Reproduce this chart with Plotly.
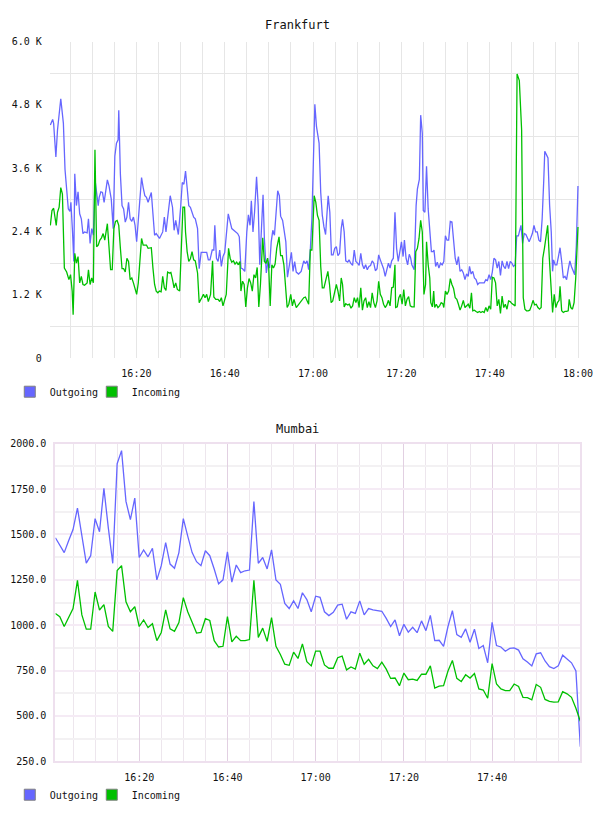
import numpy as np
import pandas as pd
import plotly.graph_objects as go

BASE = pd.Timestamp("2024-01-01 16:00:00")

# ---------------- Frankfurt (minutes after 16:00, value) ----------------
fra_out_min = [0.52,1.04,1.26,1.77,2.14,2.88,3.47,3.84,4.21,4.58,4.95,5.17,5.54,5.83,6.05,6.42,6.79,7.16,7.53,7.9,
    8.26,8.85,9.15,9.52,9.89,10.26,10.62,11.36,11.58,11.95,12.32,12.69,13.43,13.8,14.31,14.75,15.12,15.49,15.86,16.01,
    16.38,16.75,17.11,17.48,17.85,18.22,18.59,18.96,19.33,19.7,20.06,20.43,20.8,21.17,21.54,21.91,22.28,22.65,23.38,23.75,
    24.12,24.49,25.23,25.96,26.33,26.7,27.22,27.66,28.18,28.54,28.91,29.5,30.02,30.39,30.76,31.13,31.49,31.86,32.23,32.6,
    32.97,33.34,33.85,34.22,34.67,35.18,35.92,36.29,36.66,37.17,37.54,37.76,38.13,38.5,38.87,39.24,39.61,40.0,40.4,40.8,
    41.6,42.19,42.93,43.3,43.67,44.04,44.55,45.0,45.36,45.73,46.03,46.4,46.76,47.21,47.58,47.94,48.31,48.68,48.98,49.42,
    49.79,50.16,50.53,50.89,51.26,51.63,52.0,52.37,52.66,53.11,53.48,53.84,54.21,54.73,55.1,55.47,55.84,56.2,56.72,57.31,
    57.9,58.27,58.64,59.01,59.38,59.74,60.11,60.41,60.78,61.37,61.74,62.1,62.47,62.84,63.43,63.8,64.17,64.54,64.91,65.28,
    65.64,66.01,66.38,66.68,67.05,67.41,67.86,68.15,68.52,68.96,69.33,69.7,70.07,70.44,70.81,71.18,71.54,71.91,72.28,72.65,
    73.02,73.39,73.76,74.12,74.49,74.86,75.23,75.6,75.97,76.34,76.71,77.07,77.44,77.81,78.18,78.55,78.92,79.29,79.66,80.02,
    80.39,80.69,81.06,81.42,81.79,82.1,82.38,82.9,83.34,83.63,84.07,84.37,84.74,84.96,85.33,85.7,86.07,86.43,86.8,87.17,
    87.39,87.76,88.13,88.5,88.87,89.24,89.61,89.97,90.34,90.71,91.08,91.45,91.82,92.19,92.56,92.92,93.29,93.66,94.03,94.4,
    94.77,95.14,95.43,95.8,96.17,96.54,96.91,97.28,97.64,98.01,98.38,98.75,99.12,99.49,99.86,100.23,100.59,100.96,101.33,101.7,
    102.07,102.44,102.81,103.18,103.54,103.91,104.28,104.65,105.02,105.39,105.76,106.12,106.49,106.86,107.08,107.45,107.82,108.19,108.56,108.93,
    109.3,109.66,110.03,110.4,110.77,111.14,111.51,111.88,112.25,112.47,112.84,113.2,113.57,113.94,114.24,114.46,114.83,115.2,115.56,115.93,
    116.3,116.67,117.04,117.41,117.78,118.15,118.51,118.88,119.25,119.62,119.99]
fra_out_val = [4417,4523,4448,3813,4324,4915,4448,3576,3202,2828,2779,2953,2392,1832,3495,2891,3152,2735,2641,2361,
    2392,2374,2641,2174,2455,2330,3389,2891,3046,3152,3140,2953,3377,3264,3015,2455,3825,4074,4137,4697,
    3482,2891,2828,2579,2673,2953,2641,2592,2673,2517,2205,2610,3015,3420,3233,3078,3046,2953,3140,2641,
    2330,2361,2268,2392,2673,2392,2766,3078,2860,2423,2610,2342,2860,3327,3296,3545,3233,2891,2860,2766,
    2673,2641,2455,1695,2006,2006,2006,1863,1863,2050,2050,2517,1894,1832,2050,1738,1925,2000,2400,2735,
    2455,2411,2361,2299,1707,1695,1645,2392,2716,2517,2984,2392,2766,3439,2891,1769,2392,3096,2268,1614,
    1832,1707,2205,2423,2330,2735,3171,3078,2691,2610,2392,2205,1533,1769,2006,1645,1832,1632,1595,1645,
    1844,1788,1844,1676,2050,2641,3888,4810,4386,4074,3140,2704,2486,2342,3078,2766,1956,1956,2081,2112,
    1944,1987,2455,2629,2392,1844,1819,1863,1800,1757,2050,1832,1800,1757,1987,1769,1695,1769,1676,1738,
    1757,1844,1800,1657,1695,1956,1863,1769,1695,1551,1676,1800,1707,1844,1894,2766,2081,1832,2019,2205,
    1925,2237,1894,1769,1969,1900,1769,1676,2891,3202,3389,4604,4261,2797,2766,3638,2828,2486,2019,2019,
    2050,1738,1819,1707,1800,1769,1832,2318,2237,2237,2592,2579,2268,1894,1769,1925,1645,1676,1614,1489,
    1595,1551,1738,1595,1645,1520,1489,1396,1427,1427,1414,1427,1489,1470,1582,1489,1632,1894,1863,1707,
    1832,1570,1844,1738,1695,1832,1695,1832,1800,1738,1769,2318,2318,2486,2517,2174,2361,2342,2268,2205,
    2280,2361,2517,2392,2392,2237,2205,2641,3389,3919,3857,3794,2891,2392,1645,1863,1769,1769,1925,2093,
    1832,1520,1551,1489,1676,1844,1738,1657,1582,2143,3264]

fra_in_min = [0.52,0.89,1.26,1.63,1.85,2.14,2.51,2.88,3.25,3.69,4.21,4.72,5.09,5.46,5.68,6.05,6.42,6.79,7.16,7.53,
    7.9,8.26,8.85,9.15,9.52,9.89,10.26,10.62,10.99,11.36,11.73,12.1,12.47,12.84,13.43,14.16,14.53,14.9,15.27,15.64,
    16.01,16.38,16.75,17.11,17.48,17.85,18.22,18.59,18.96,19.33,19.7,20.06,20.43,20.8,21.17,21.54,22.28,22.65,23.38,23.75,
    24.12,24.49,24.86,25.23,25.6,25.96,26.33,26.7,27.07,27.44,27.81,28.18,28.54,28.91,29.28,29.8,30.17,30.54,30.91,31.13,
    31.49,31.86,32.23,32.6,32.97,33.34,33.85,34.22,34.81,35.18,35.55,35.92,36.29,36.8,37.25,37.54,37.98,38.5,38.87,39.24,
    39.61,39.98,40.35,40.87,41.23,41.6,41.97,42.34,42.71,43.08,43.45,43.67,44.04,44.4,44.77,45.14,45.51,45.88,46.25,46.62,
    46.99,47.35,47.72,48.09,48.61,48.98,49.35,49.71,49.94,50.3,50.67,51.04,51.41,51.78,52.3,52.66,53.03,53.4,53.77,54.14,
    54.51,54.95,55.32,55.69,56.2,56.72,57.31,57.9,58.27,58.64,59.01,59.38,59.74,60.26,60.63,61.0,61.37,61.74,62.1,62.47,
    62.84,63.36,63.73,64.1,64.46,64.83,65.28,65.64,66.01,66.38,66.68,67.05,67.41,67.86,68.22,68.59,68.96,69.33,69.7,70.07,
    70.44,70.81,71.18,71.54,71.91,72.28,72.65,73.02,73.39,73.76,74.12,74.49,74.86,75.23,75.6,75.97,76.34,76.71,77.07,77.44,
    77.81,78.18,78.55,78.7,79.07,79.43,79.8,80.17,80.54,80.91,81.28,81.65,82.02,82.38,82.9,83.26,83.63,84.0,84.37,84.74,
    85.11,85.48,85.7,86.07,86.43,86.66,87.02,87.32,87.54,87.91,88.28,88.65,89.02,89.38,89.61,89.97,90.34,90.71,91.08,91.45,
    91.82,92.19,92.56,92.92,93.29,93.66,94.03,94.4,94.77,95.14,95.51,95.87,96.17,96.54,96.91,97.28,97.64,98.01,98.38,98.75,
    99.12,99.49,99.86,100.23,100.59,100.96,101.33,101.7,102.07,102.44,102.81,103.18,103.54,103.91,104.28,104.65,105.02,105.39,105.76,106.2,
    106.71,107.23,107.6,107.97,108.34,108.71,109.07,109.44,109.81,110.18,110.55,110.92,111.29,111.65,112.02,112.39,112.76,113.13,113.5,113.87,
    114.24,114.61,114.98,115.34,115.71,115.93,116.3,116.67,117.04,117.41,117.78,118.0,118.37,118.74,119.11,119.48,119.77,119.99]
fra_in_val = [2517,2797,2841,2641,2517,2766,2860,3233,3109,1707,1632,1489,1582,1271,822,1987,1800,1925,1427,1551,
    1396,1383,1427,1676,1396,1520,1427,3950,2112,2143,2237,2280,2361,2237,2548,1676,1676,2455,2592,2610,
    2517,2081,1695,1695,1632,1894,1832,1489,1520,1427,1302,1209,1427,1894,2268,2143,2143,2081,2093,1707,
    1396,1271,1240,1271,1258,1551,1333,1283,1632,1614,1626,1489,1333,1427,1302,1271,2143,2860,2860,2392,
    2019,1832,1882,2019,1863,1844,1614,1053,1146,1209,1146,1209,1072,1209,1844,1159,1115,1115,1072,1146,
    991,1084,1209,2081,1894,1819,1844,1782,1819,1769,1832,1271,1458,1396,972,1333,1508,1427,1271,1582,
    1520,1719,972,1396,2280,1832,1800,1894,1769,991,1769,1707,1782,2081,2299,1944,1944,1769,1427,959,
    1022,1209,991,1115,959,1022,1072,1146,1159,1084,1022,2050,2050,3078,2953,2704,2610,1738,1333,1333,
    1489,1645,1396,1053,1084,1209,1396,1271,1084,1520,1396,972,1034,1009,1022,947,991,1146,1053,1146,
    959,1333,910,1084,1146,959,1072,959,1240,1053,959,1084,1458,1209,1146,1022,959,1009,1096,991,
    1333,1346,1769,959,972,1146,1209,1022,1302,991,1115,1165,991,972,972,2019,2081,2268,2610,2392,
    1209,1396,2205,1769,1520,1053,972,1271,959,1022,959,991,1053,1034,959,1271,1209,1271,1508,1396,
    1321,1146,1115,1022,910,991,1096,959,991,1022,947,1240,897,910,885,866,885,866,885,866,
    959,885,991,928,1533,1520,1427,991,1115,847,1178,959,1022,928,1084,1072,1034,1009,991,5383,
    5258,4324,1146,928,897,897,910,991,1096,1009,1022,959,928,959,1894,2081,2268,2517,1894,1271,
    866,1209,959,1053,1096,1364,897,866,885,885,897,1115,959,928,1053,1520,2143,2486]

fra_y_ticks = [0, 1200, 2400, 3600, 4800, 6000]
fra_y_labels = ["0", "1.2 K", "2.4 K", "3.6 K", "4.8 K", "6.0 K"]
fra_x_labels = ["16:20", "16:40", "17:00", "17:20", "17:40", "18:00"]

# ---------------- Mumbai (one value per minute, 16:01 .. 18:00) ----------------
mum_out = [1482,1440,1400,1465,1527,1645,1482,1342,1383,1587,1515,1754,1536,1341,1890,1962,1682,1582,1700,1373,
    1415,1377,1424,1250,1328,1455,1337,1314,1400,1587,1491,1400,1350,1328,1410,1383,1310,1228,1250,1404,
    1237,1332,1290,1300,1304,1682,1341,1373,1310,1415,1250,1225,1120,1092,1134,1092,1179,1141,1074,1160,
    1154,1074,1053,1071,1111,1116,1033,1074,1065,1134,1057,1092,1084,1080,1077,1038,993,1029,942,1005,
    962,989,959,1024,970,1054,915,917,884,993,1080,948,933,980,906,978,872,888,793,1016,
    888,880,857,872,875,863,815,797,776,842,848,803,772,761,776,835,815,793,748,331]
mum_in = [1065,1047,993,1040,1092,1247,1057,978,978,1183,1084,1114,993,966,1301,1328,1129,1074,1102,993,
    1029,987,1008,915,960,1084,980,966,1015,1152,1074,1016,957,960,1036,1026,915,880,884,1047,
    908,939,915,915,921,1247,933,984,911,1042,884,839,785,779,852,817,897,799,776,857,
    857,781,763,763,821,830,754,770,758,846,785,812,776,761,797,758,707,709,667,736,
    700,703,696,730,730,776,654,665,667,748,806,707,690,727,709,734,649,643,598,788,
    676,649,640,640,676,663,603,601,589,674,658,591,580,576,578,634,622,603,543,471]
mum_x_labels = ["16:20", "16:40", "17:00", "17:20", "17:40"]

series_names = ["Outgoing", "Incoming"]

BLUE = "#6666ff"
GREEN = "#00c000"
FONT = "DejaVu Sans Mono"
W, H = 608, 816


def t(mins):
    return BASE + pd.to_timedelta(np.asarray(mins, dtype=float), unit="min")


def lab_times(labels):
    return [pd.Timestamp("2024-01-01 " + s) for s in labels]


fig = go.Figure()

# Frankfurt
fig.add_trace(go.Scatter(x=t(fra_out_min), y=fra_out_val, mode="lines", line=dict(color=BLUE, width=1.3),
                         showlegend=False, xaxis="x", yaxis="y"))
fig.add_trace(go.Scatter(x=t(fra_in_min), y=fra_in_val, mode="lines", line=dict(color=GREEN, width=1.3),
                         showlegend=False, xaxis="x", yaxis="y"))
# Mumbai
mum_t = t(np.arange(1, len(mum_out) + 1))
fig.add_trace(go.Scatter(x=mum_t, y=mum_out, mode="lines", line=dict(color=BLUE, width=1.3),
                         showlegend=False, xaxis="x2", yaxis="y2"))
fig.add_trace(go.Scatter(x=mum_t, y=mum_in, mode="lines", line=dict(color=GREEN, width=1.3),
                         showlegend=False, xaxis="x2", yaxis="y2"))

# legend swatches (plus an invisible spacer entry so the last label is not clipped)
for leg, xa, ya in (("legend", "x", "y"), ("legend2", "x2", "y2")):
    for name, col in zip(series_names, (BLUE, GREEN)):
        fig.add_trace(go.Scatter(x=[None], y=[None], mode="markers", name=name,
                                 marker=dict(symbol="square", size=11, color=col,
                                             line=dict(color="#808080", width=1)),
                                 legend=leg, xaxis=xa, yaxis=ya))
    fig.add_trace(go.Scatter(x=[None], y=[None], mode="markers", name=" ",
                             marker=dict(size=1, color="rgba(0,0,0,0)"),
                             legend=leg, xaxis=xa, yaxis=ya))

tickfont = dict(family=FONT, size=10, color="#111111")
fra_minor_y = [(a + b) / 2 for a, b in zip(fra_y_ticks[:-1], fra_y_ticks[1:])]

legend_common = dict(orientation="h", xanchor="left", yanchor="middle", entrywidth=37,
                     font=dict(family=FONT, size=10, color="#111111"), bgcolor="rgba(0,0,0,0)",
                     itemclick=False, itemdoubleclick=False)

fig.update_layout(
    width=W, height=H, autosize=False,
    margin=dict(l=0, r=0, t=0, b=0),
    paper_bgcolor="white", plot_bgcolor="white",
    font=dict(family=FONT, size=10, color="#111111"),
    xaxis=dict(domain=[51 / W, 593 / W], anchor="y", type="date",
               range=[BASE + pd.Timedelta(minutes=0.4), BASE + pd.Timedelta(minutes=120.3)],
               tickmode="array", tickvals=lab_times(fra_x_labels), ticktext=fra_x_labels,
               showgrid=True, gridcolor="#e6e6e6", gridwidth=1,
               minor=dict(dtick=300000, tick0=BASE, showgrid=True, gridcolor="#e6e6e6", gridwidth=1),
               zeroline=False, showline=False, ticks="outside", ticklen=6, tickcolor="rgba(0,0,0,0)",
               tickfont=tickfont, fixedrange=True),
    yaxis=dict(domain=[1 - 358 / H, 1 - 37 / H], anchor="x", range=[0, 6000],
               tickmode="array", tickvals=fra_y_ticks, ticktext=fra_y_labels,
               showgrid=False, zeroline=False, showline=False,
               minor=dict(tickmode="array", tickvals=fra_minor_y, showgrid=True, gridcolor="#e6e6e6", gridwidth=1),
               ticks="outside", ticklen=5, tickcolor="rgba(0,0,0,0)", tickfont=tickfont),
    xaxis2=dict(domain=[56.7 / W, 594 / W], anchor="y2", type="date",
                range=[BASE + pd.Timedelta(minutes=1), BASE + pd.Timedelta(minutes=120)],
                tickmode="array", tickvals=lab_times(mum_x_labels), ticktext=mum_x_labels,
                showgrid=True, gridcolor="#e2d0e2", gridwidth=1,
                minor=dict(dtick=300000, tick0=BASE, showgrid=True, gridcolor="#ede6ed", gridwidth=1),
                zeroline=False, showline=True, mirror=True, linecolor="#eee0ee", linewidth=2,
                ticks="outside", ticklen=6, tickcolor="rgba(0,0,0,0)", tickfont=tickfont),
    yaxis2=dict(domain=[1 - 766.7 / H, 1 - 444.7 / H], anchor="x2", range=[250, 2000],
                tick0=250, dtick=250, tickformat=".1f",
                showgrid=True, gridcolor="#f5ebf5", gridwidth=2,
                minor=dict(tick0=250, dtick=125, showgrid=True, gridcolor="#f3f1f3", gridwidth=2),
                zeroline=False, showline=True, mirror=True, linecolor="#eee0ee", linewidth=2,
                ticks="outside", ticklen=5, tickcolor="rgba(0,0,0,0)", tickfont=tickfont),
    legend=dict(x=10 / W, y=1 - 392 / H, **legend_common),
    legend2=dict(x=10 / W, y=1 - 800.5 / H, **legend_common),
    annotations=[
        dict(text="Frankfurt", x=0.5, y=1 - 20 / H, xref="paper", yref="paper", showarrow=False,
             xanchor="center", yanchor="middle", font=dict(family=FONT, size=12, color="#111111")),
        dict(text="Mumbai", x=0.5, y=1 - 430 / H, xref="paper", yref="paper", showarrow=False,
             xanchor="center", yanchor="middle", font=dict(family=FONT, size=12, color="#111111")),
    ],
)

fig.write_html("out.html", config={"displayModeBar": False})
